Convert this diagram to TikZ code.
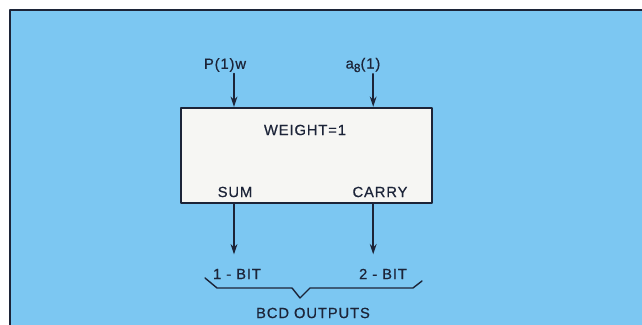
\documentclass[tikz,border=0pt]{standalone}
\usepackage{fontspec}
\setmainfont{Liberation Sans}
\newfontfamily\lettering[LetterSpace=6,FakeBold=0.6]{Liberation Sans}
\usetikzlibrary{arrows.meta}
\definecolor{panelblue}{RGB}{124,199,242}
\definecolor{ink}{RGB}{28,36,56}
\definecolor{boxwhite}{RGB}{246,246,243}
\tikzset{
  lbl/.style={text=ink, inner sep=1pt},
  wire/.style={draw=ink, line width=1.1pt, ->}
}
\begin{document}
\begin{tikzpicture}[font=\lettering\fontsize{10.5}{13}\selectfont, line join=round, line cap=round, >={Stealth[length=2.6mm,width=1.7mm]}]
	\def\xL{5.85}
	\def\xR{9.33}
	\useasboundingbox (0,0) rectangle (16.05,8.125);
	\fill[panelblue] (0.25,0) rectangle (16.05,7.875);
	\draw[ink, line width=1.3pt, line cap=butt] (0.25,0) -- (0.25,7.875) -- (16.05,7.875);
	\coordinate (colL) at (\xL,0);
	\coordinate (colR) at (\xR,0);
	\node[draw=ink, fill=boxwhite, line width=1.3pt, minimum width=6.28cm, minimum height=2.38cm] (adder) at (7.66,4.24) {};
	\node[lbl] (weight) at (7.625,4.875) {WEIGHT=1};
	\node[lbl] (pin) at (5.625,6.5) {P(1)w};
	\node[lbl] (ain) at (9.075,6.5) {a\raisebox{-0.45ex}{\fontsize{8.5}{9}\selectfont 8}(1)};
	\node[lbl] (sum) at (5.875,3.325) {SUM};
	\node[lbl] (carry) at (9.5,3.325) {CARRY};
	\node[lbl] (bit1) at (5.925,1.275) {1 - BIT};
	\node[lbl] (bit2) at (9.575,1.275) {2 - BIT};
	\node[lbl] (bcd) at (7.825,0.3) {BCD OUTPUTS};
	\draw[wire] (pin.south -| colL) -- (adder.north -| colL);
	\draw[wire] (ain.south -| colR) -- (adder.north -| colR);
	\draw[wire, shorten >=0.32cm] (adder.south -| colL) -- (bit1.north -| colL);
	\draw[wire, shorten >=0.32cm] (adder.south -| colR) -- (bit2.north -| colR);
	\draw[ink, line width=1pt] (5.125,1.175) -- (5.425,0.925) -- (7.3,0.925) -- (7.5,0.675) -- (7.75,0.925) -- (10.325,0.925) -- (10.55,1.1);
\end{tikzpicture}
\end{document}
